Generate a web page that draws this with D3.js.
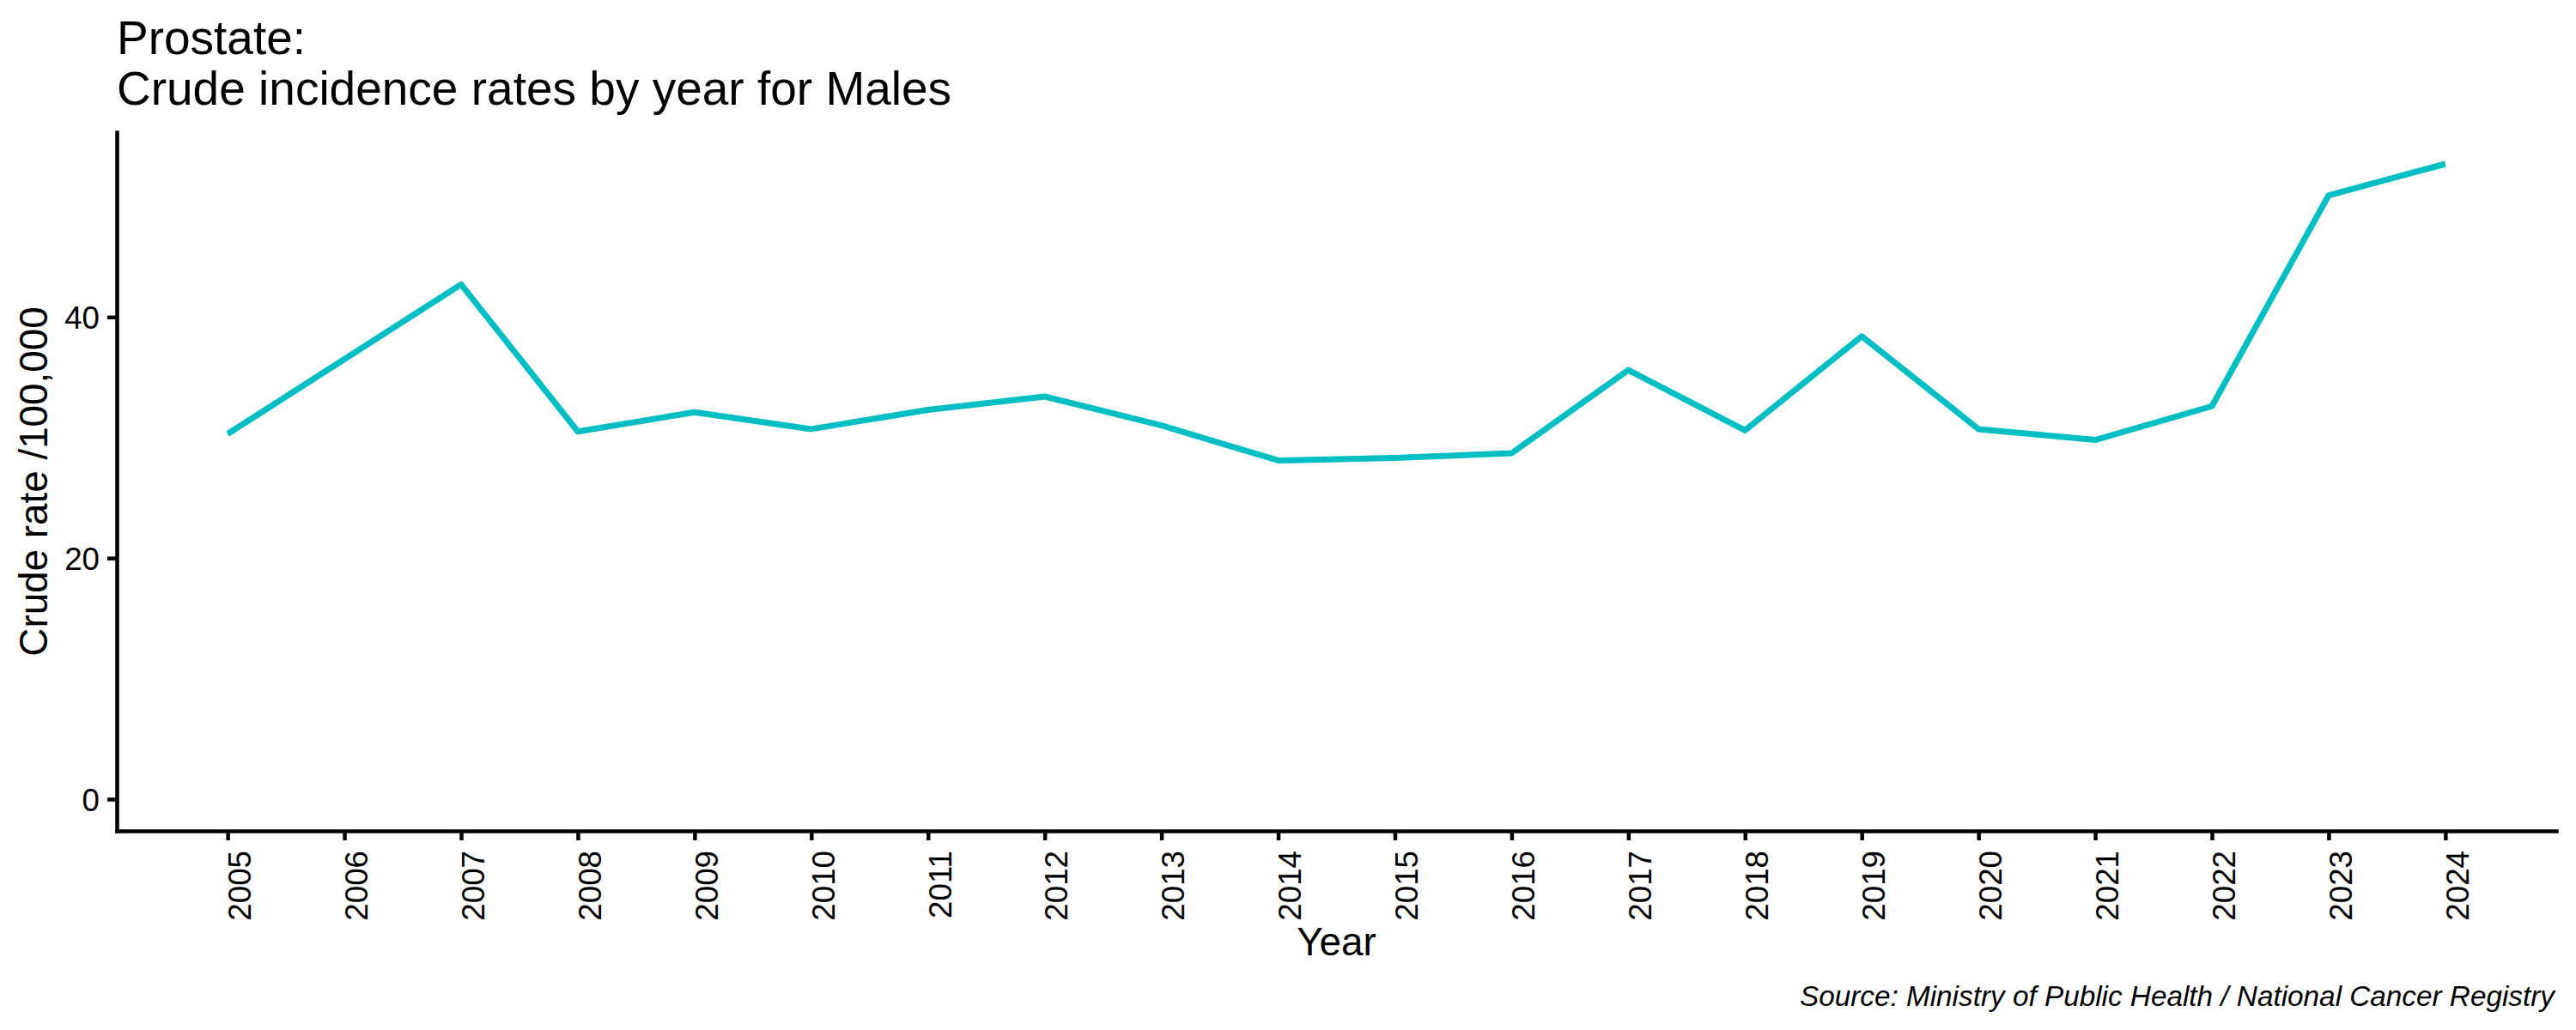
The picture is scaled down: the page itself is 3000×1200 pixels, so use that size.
<!DOCTYPE html>
<html>
<head>
<meta charset="utf-8">
<script src="https://cdn.jsdelivr.net/npm/d3@7"></script>
<style>
  html, body { margin: 0; padding: 0; background: #ffffff; }
  svg { display: block; }
  text { font-family: "Liberation Sans", Arial, sans-serif; fill: #000000; }
</style>
</head>
<body>
<svg id="chart" width="3000" height="1200"></svg>
<script>
// ---- data ----
const years = [2005, 2006, 2007, 2008, 2009, 2010, 2011, 2012, 2013, 2014,
               2015, 2016, 2017, 2018, 2019, 2020, 2021, 2022, 2023, 2024];
const crudeRate = [30.3, 36.5, 42.7, 30.5, 32.1, 30.7, 32.3, 33.4, 31.0, 28.1,
                   28.3, 28.7, 35.6, 30.6, 38.4, 30.7, 29.8, 32.6, 50.1, 52.7];
const yTicks = [0, 20, 40];
const titleLines = ["Prostate:", "Crude incidence rates by year for Males"];
const xLabel = "Year";
const yLabel = "Crude rate /100,000";
const caption = "Source: Ministry of Public Health / National Cancer Registry";

// ---- layout ----
const W = 3000, H = 1200;
const panel = { left: 136, right: 2977, top: 154, bottom: 968 };
const lineColor = "#00BFC4";
const axisW = 4.5;
const tickLen = 11;
const tickFont = 36.7;
const captionFont = 33.3;
const titleFont = 55;
const axisTitleFont = 45.8;

const svg = d3.select("#chart");
svg.append("rect").attr("width", W).attr("height", H).attr("fill", "#ffffff");

const data = years.map((y, i) => ({ year: y, value: crudeRate[i] }));

// ggplot-style 5% expansion
const xMin = d3.min(years), xMax = d3.max(years);
const xPad = (xMax - xMin) * 0.05;
const x = d3.scaleLinear().domain([xMin - xPad, xMax + xPad]).range([panel.left, panel.right]);

const yLo = 0, yHi = d3.max(crudeRate);
const yPad = (yHi - yLo) * 0.05;
const y = d3.scaleLinear().domain([yLo - yPad, yHi + yPad]).range([panel.bottom, panel.top]);

// ---- line ----
const line = d3.line().x(d => x(d.year)).y(d => y(d.value));
svg.append("path")
  .datum(data)
  .attr("d", line)
  .attr("fill", "none")
  .attr("stroke", lineColor)
  .attr("stroke-width", 7)
  .attr("stroke-linejoin", "round")
  .attr("stroke-linecap", "butt");

// ---- y axis ----
const yAxis = svg.append("g")
  .attr("transform", `translate(${panel.left},0)`)
  .call(d3.axisLeft(y).tickValues(yTicks).tickSize(tickLen).tickSizeOuter(0).tickPadding(9).tickFormat(d3.format("d")));
yAxis.select(".domain").attr("stroke", "#000").attr("stroke-width", axisW).attr("stroke-linecap", "square");
yAxis.selectAll(".tick line").attr("stroke", "#000").attr("stroke-width", axisW);
yAxis.selectAll(".tick text")
  .attr("font-size", tickFont)
  .attr("font-family", "Liberation Sans, Arial, sans-serif")
  .attr("fill", "#000")
  .attr("dy", "0.36em");

// ---- x axis ----
const xAxis = svg.append("g")
  .attr("transform", `translate(0,${panel.bottom})`)
  .call(d3.axisBottom(x).tickValues(years).tickSize(tickLen).tickSizeOuter(0).tickFormat(d3.format("d")));
xAxis.select(".domain").attr("stroke", "#000").attr("stroke-width", axisW).attr("stroke-linecap", "square");
xAxis.selectAll(".tick line").attr("stroke", "#000").attr("stroke-width", axisW);
xAxis.selectAll(".tick text")
  .attr("font-size", tickFont)
  .attr("font-family", "Liberation Sans, Arial, sans-serif")
  .attr("fill", "#000")
  .attr("text-anchor", "end")
  .attr("dy", null)
  .attr("y", null)
  .attr("transform", `translate(${tickFont * 0.716},23) rotate(-90)`);

// ---- axis titles ----
svg.append("text")
  .attr("x", (panel.left + panel.right) / 2)
  .attr("y", 1113)
  .attr("text-anchor", "middle")
  .attr("font-size", axisTitleFont)
  .text(xLabel);

svg.append("text")
  .attr("transform", `translate(55,${(panel.top + panel.bottom) / 2}) rotate(-90)`)
  .attr("text-anchor", "middle")
  .attr("font-size", axisTitleFont)
  .text(yLabel);

// ---- title ----
const titleBaselines = [62.7, 121.7];
titleLines.forEach((t, i) => {
  svg.append("text")
    .attr("x", 136)
    .attr("y", titleBaselines[i])
    .attr("font-size", titleFont)
    .text(t);
});

// ---- caption ----
svg.append("text")
  .attr("x", 2975)
  .attr("y", 1172)
  .attr("text-anchor", "end")
  .attr("font-size", captionFont)
  .attr("font-style", "italic")
  .text(caption);
</script>
</body>
</html>
